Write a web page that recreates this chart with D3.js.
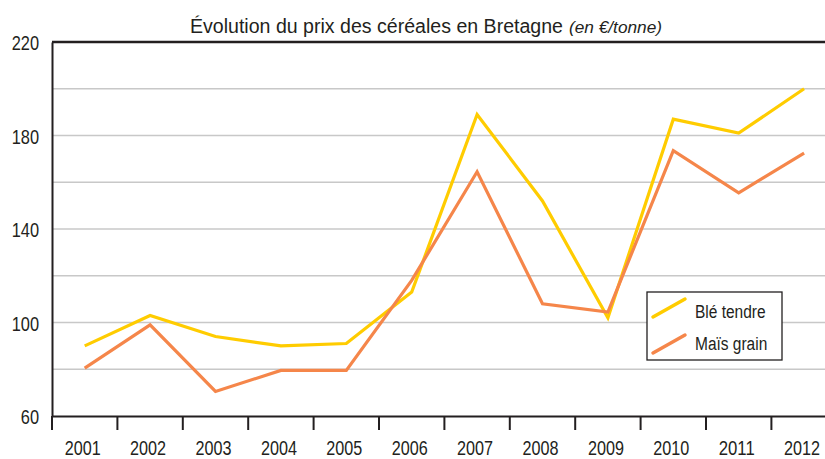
<!DOCTYPE html>
<html>
<head>
<meta charset="utf-8">
<script src="https://cdn.jsdelivr.net/npm/d3@7"></script>
<style>
body { margin: 0; background: #fff; }
text { font-family: "Liberation Sans", Arial, sans-serif; fill: #231f20; }
</style>
</head>
<body>
<script>
var years = ["2001","2002","2003","2004","2005","2006","2007","2008","2009","2010","2011","2012"];
var ble = [90, 103, 94, 90, 91, 113, 189, 152, 102, 187, 181, 200];
var mais = [80.5, 99, 70.5, 79.5, 79.5, 118, 164.5, 108, 104.5, 173.5, 155.5, 172.5];
var yTicks = [60, 100, 140, 180, 220];
var grid = [80, 100, 120, 140, 160, 180, 200];
var seriesNames = ["Blé tendre", "Maïs grain"];
var colors = ["#ffcc00", "#f5864a"];

var W = 825, H = 459;
var mLeft = 52, mTop = 42, mBottom = 416;

var svg = d3.select("body").append("svg")
    .attr("width", W)
    .attr("height", H);

var x = d3.scaleBand().domain(years).range([mLeft, mLeft + 12 * 65.4]);
var y = d3.scaleLinear().domain([60, 220]).range([mBottom, mTop]);

// squeeze text horizontally like the condensed font of the original
function narrow(sel, ratio) {
  sel.each(function(){
    var w = this.getComputedTextLength();
    d3.select(this).attr("textLength", w * ratio).attr("lengthAdjust", "spacingAndGlyphs");
  });
}

// grid lines
svg.selectAll(".grid")
    .data(grid)
  .enter().append("line")
    .attr("x1", mLeft).attr("x2", W)
    .attr("y1", function(d){ return y(d); })
    .attr("y2", function(d){ return y(d); })
    .attr("stroke", "#c8c8c8")
    .attr("stroke-width", 1.3);

// top border
svg.append("line")
    .attr("x1", mLeft).attr("x2", W)
    .attr("y1", y(220)).attr("y2", y(220))
    .attr("stroke", "#231f20").attr("stroke-width", 2.5);

// y axis
var yAxis = d3.axisLeft(y).tickValues(yTicks).tickSize(0).tickPadding(13);
var gy = svg.append("g").attr("transform", "translate(" + mLeft + ",0)").call(yAxis);
gy.select(".domain").attr("stroke", "#231f20").attr("stroke-width", 2);
gy.selectAll("text").attr("font-size", 21).attr("dy", "0.36em").style("font-family", null).call(narrow, 0.78);

// x axis
var xAxis = d3.axisBottom(x).tickSize(0).tickPadding(25);
var gx = svg.append("g").attr("transform", "translate(0," + mBottom + ")").call(xAxis);
gx.select(".domain").attr("stroke", "#231f20").attr("stroke-width", 2);
gx.selectAll("text").attr("font-size", 20).attr("x", -2).style("font-family", null)
    .attr("textLength", 36).attr("lengthAdjust", "spacingAndGlyphs");
gx.selectAll(".sep")
    .data(years)
  .enter().append("line")
    .attr("x1", function(d){ return x(d) + x.bandwidth(); })
    .attr("x2", function(d){ return x(d) + x.bandwidth(); })
    .attr("y1", 0).attr("y2", 14)
    .attr("stroke", "#231f20").attr("stroke-width", 2);
gx.append("line")
    .attr("x1", mLeft).attr("x2", mLeft).attr("y1", 0).attr("y2", 14)
    .attr("stroke", "#231f20").attr("stroke-width", 2);

// lines
var line = d3.line()
    .x(function(d, i){ return x(years[i]) + x.bandwidth() / 2; })
    .y(function(d){ return y(d); });

[ble, mais].forEach(function(s, k){
  svg.append("path")
    .datum(s)
    .attr("d", line)
    .attr("fill", "none")
    .attr("stroke", colors[k])
    .attr("stroke-width", 3.2)
    .attr("stroke-linejoin", "miter");
});

// legend
var lg = svg.append("g").attr("transform", "translate(647,292)");
lg.append("rect")
    .attr("width", 135).attr("height", 68)
    .attr("fill", "#fff").attr("stroke", "#231f20").attr("stroke-width", 1.3);
seriesNames.forEach(function(n, i){
  lg.append("line")
    .attr("x1", 6).attr("y1", 25 + i * 36)
    .attr("x2", 38).attr("y2", 7 + i * 36)
    .attr("stroke", colors[i]).attr("stroke-width", 3.5).attr("stroke-linecap", "round");
  lg.append("text")
    .attr("x", 48).attr("y", 26 + i * 32)
    .attr("font-size", 18)
    .text(n)
    .call(narrow, 0.86);
});

// title
svg.append("text")
    .attr("x", 190).attr("y", 33)
    .attr("font-size", 20)
    .attr("textLength", 373).attr("lengthAdjust", "spacingAndGlyphs")
    .text("Évolution du prix des céréales en Bretagne");
svg.append("text")
    .attr("x", 569).attr("y", 33)
    .attr("font-size", 16).attr("font-style", "italic")
    .attr("textLength", 93).attr("lengthAdjust", "spacingAndGlyphs")
    .text("(en €/tonne)");
</script>
</body>
</html>
